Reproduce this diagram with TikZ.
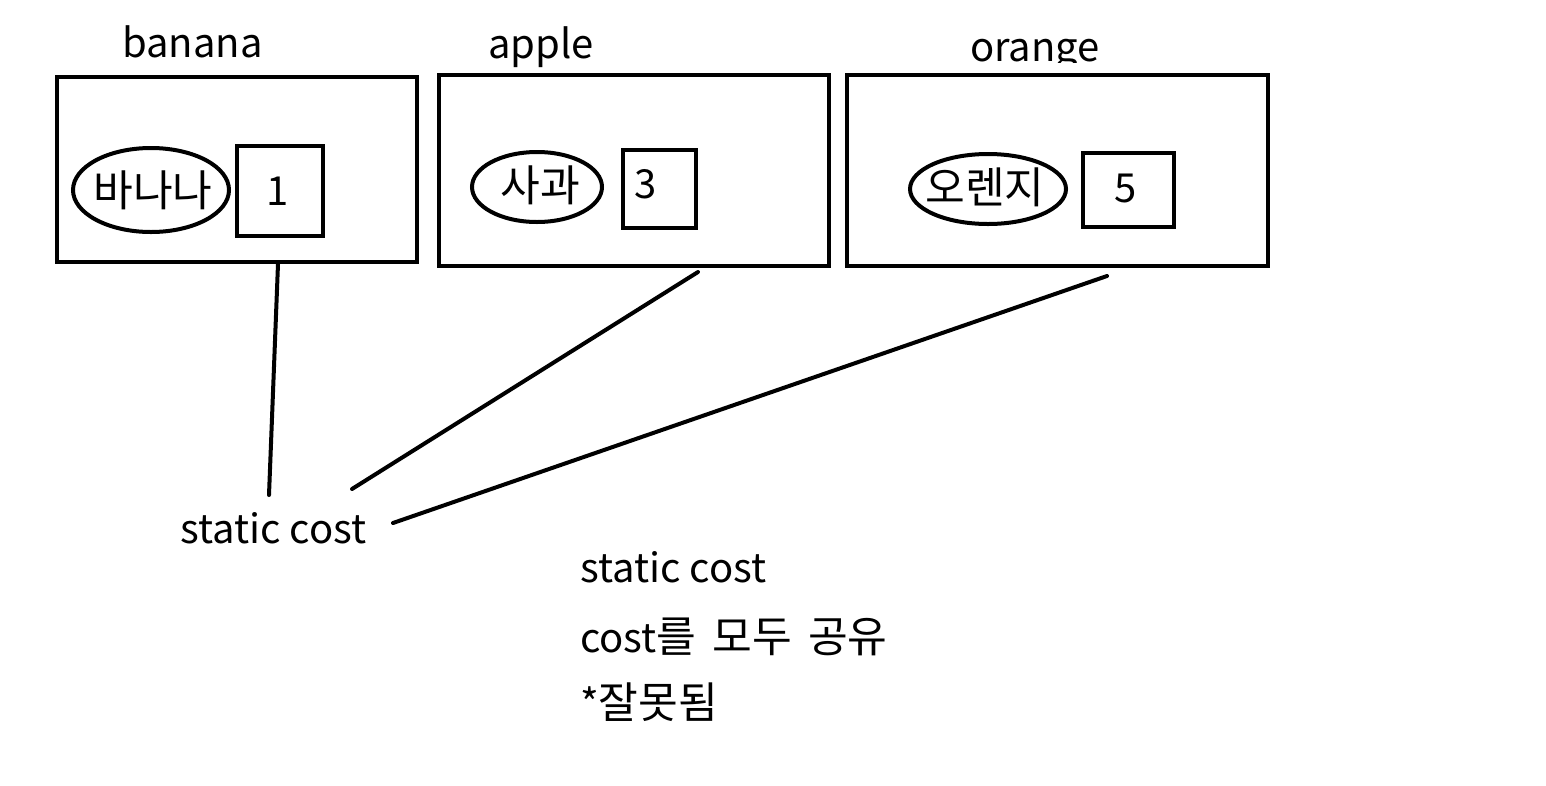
\documentclass[tikz,border=0pt]{standalone}
\usepackage{fontspec}
\setmainfont{Noto Sans CJK KR}
\newfontfamily\kr[Scale=1.08]{Noto Sans CJK KR}
\usetikzlibrary{shapes.geometric}
\begin{document}
\begin{tikzpicture}[x=1pt,y=-1pt,
  every node/.style={font=\fontsize{40}{46}\selectfont, inner sep=0pt},
  outerbox/.style={draw, line width=4pt, rectangle},
  valbox/.style={draw, line width=4pt, rectangle},
  nameoval/.style={draw, line width=4pt, ellipse},
  link/.style={line width=4pt, line cap=round}]
\useasboundingbox (0,0) rectangle (1546,785);
% boxes
\node[outerbox, minimum width=360pt, minimum height=185pt] (bbox) at (237,169.5) {};
\node[outerbox, minimum width=390pt, minimum height=191pt] (abox) at (634,170.5) {};
\node[outerbox, minimum width=421pt, minimum height=191pt] (obox) at (1057.5,170.5) {};
% titles
\node[anchor=base] (btitle) at (192.5,57) {banana};
\node[anchor=base] (atitle) at (541,58) {apple};
\begin{scope}
\clip (900,0) rectangle (1200,62);
\node[anchor=base] (otitle) at (1035,61) {orange};
\end{scope}
% ovals
\node[nameoval, minimum width=156pt, minimum height=84pt] (bname) at (151,190) {};
\node (btext) at (153,190) {\kr 바나나};
\node[nameoval, minimum width=130pt, minimum height=70pt] (aname) at (537,187) {};
\node (atext) at (540,185) {\kr 사과};
\node[nameoval, minimum width=156pt, minimum height=70pt] (oname) at (988,189) {};
\node (otext) at (985,187) {\kr 오렌지};
% value boxes
\node[valbox, minimum width=86pt, minimum height=90pt] (bval) at (280,191) {};
\node[anchor=base] (bnum) at (278,205) {1};
\node[valbox, minimum width=73pt, minimum height=78pt] (aval) at (659.5,189) {};
\node[anchor=base] (anum) at (646,198) {3};
\node[valbox, minimum width=91pt, minimum height=74pt] (oval) at (1128.5,190) {};
\node[anchor=base] (onum) at (1126,202) {5};
% static cost
\node[anchor=base west] (sc) at (180,543) {static cost};
\coordinate (e1) at (269,495);
\coordinate (e2) at (352,489);
\coordinate (e3) at (393,523);
\coordinate (s1) at ([xshift=41pt]bbox.south);
\coordinate (s2) at ([xshift=64pt,yshift=-4pt]abox.south);
\coordinate (s3) at ([xshift=49.5pt,yshift=-8pt]obox.south);
\draw[link] (s1) -- (e1);
\draw[link] (s2) -- (e2);
\draw[link] (s3) -- (e3);
% notes
\node[anchor=base west] (n1) at (580,582) {static cost};
\node[anchor=base west] (n2) at (580,652) {cost{\kr 를}\hspace{16pt}{\kr 모두}\hspace{16pt}{\kr 공유}};
\node[anchor=base west] (n3) at (580,718) {*{\kr 잘못됨}};
\end{tikzpicture}
\end{document}
